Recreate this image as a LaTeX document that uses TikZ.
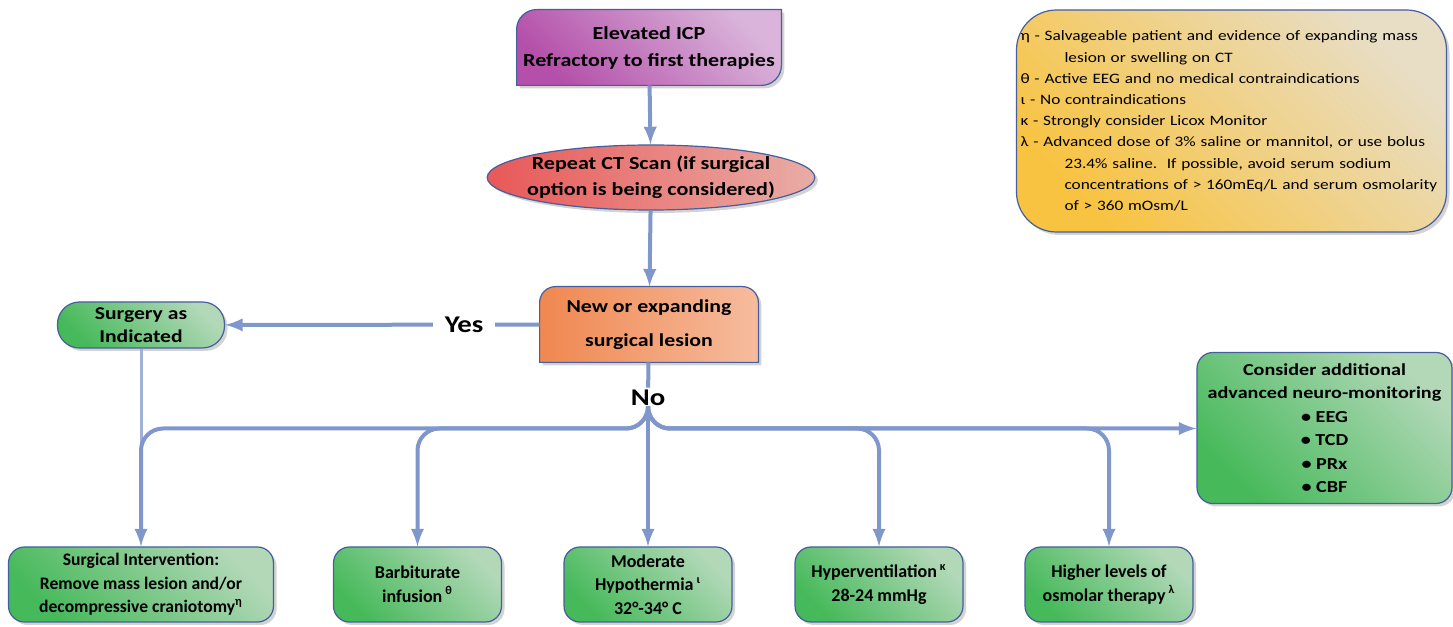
\documentclass[tikz,border=0pt]{standalone}
\usepackage{fontspec}
\setmainfont{Carlito}
\newfontfamily\widefont{Carlito}[FakeStretch=1.2]
\usetikzlibrary{shapes.geometric,shadows,backgrounds}
\definecolor{arrowc}{RGB}{127,151,202}
\definecolor{boxline}{RGB}{68,94,158}
\definecolor{greenlo}{RGB}{70,185,90}
\definecolor{greenhi}{RGB}{178,216,184}
\definecolor{purplelo}{RGB}{180,80,170}
\definecolor{purplehi}{RGB}{218,180,218}
\definecolor{redlo}{RGB}{232,88,88}
\definecolor{redhi}{RGB}{233,172,166}
\definecolor{orangelo}{RGB}{240,135,80}
\definecolor{orangehi}{RGB}{246,188,158}
\definecolor{yellowlo}{RGB}{248,195,65}
\definecolor{yellowhi}{RGB}{232,222,198}
\begin{document}
\begin{tikzpicture}[
	x=0.5pt, y=0.5pt,
	every node/.style={font=\fontsize{9}{11.75}\selectfont\bfseries},
	arr/.style={draw=arrowc, line width=2pt, -latex},
	boxshadow/.style={drop shadow={opacity=0.35, shadow xshift=1.5pt, shadow yshift=-1.5pt}},
	greenbox/.style={draw=boxline, line width=0.6pt, rounded corners=8pt, align=center,
		inner sep=0pt, top color=greenhi, bottom color=greenlo, shading angle=-45, boxshadow},
	bottombox/.style={greenbox, minimum width=84pt, minimum height=37.5pt},
	label/.style={font=\widefont\fontsize{12}{13}\selectfont\bfseries, fill=white}
]
\useasboundingbox (0,0) rectangle (1453,627);

% main column
\node[minimum width=132pt, minimum height=37.5pt, inner sep=0pt, align=center,
	font=\widefont\fontsize{9.2}{13.5}\selectfont\bfseries] (T) at (649,579.5)
	{Elevated ICP\\Refractory to first therapies};
\node[ellipse, draw=boxline, line width=0.6pt, minimum width=161pt, minimum height=32.5pt,
	inner xsep=-4pt, inner ysep=-1pt, align=center, left color=redlo, right color=redhi, boxshadow,
	font=\widefont\fontsize{9.2}{13}\selectfont\bfseries] (E) at (651,449.5)
	{Repeat CT Scan (if surgical\\option is being considered)};
\node[minimum width=109pt, minimum height=37.5pt, inner sep=0pt, align=center,
	font=\widefont\fontsize{9.1}{17}\selectfont\bfseries] (D) at (649,302.5)
	{New or expanding\\surgical lesion};
\node[greenbox, rounded corners=11pt, minimum width=83.5pt, minimum height=23pt,
	font=\widefont\fontsize{9}{11.5}\selectfont\bfseries] (S) at (141,302)
	{Surgery as\\Indicated};
\node[greenbox, minimum width=127.5pt, minimum height=75.5pt,
	font=\widefont\fontsize{8.4}{11.75}\selectfont\bfseries] (C) at (1324.5,199)
	{Consider additional\\advanced neuro-monitoring\\• EEG\\• TCD\\• PRx\\• CBF};

% legend
\node[draw=boxline, line width=0.6pt, rounded corners=20pt, top color=yellowhi,
	bottom color=yellowlo, shading angle=-45, boxshadow, align=left, text width=211pt,
	inner xsep=2pt, minimum height=111pt, font=\widefont\fontsize{7.2}{10.6}\selectfont] (L) at (1231.5,506)
	{η - Salvageable patient and evidence of expanding mass\\
	\hspace*{22pt}lesion or swelling on CT\\
	θ - Active EEG and no medical contraindications\\
	ι - No contraindications\\
	κ - Strongly consider Licox Monitor\\
	λ - Advanced dose of 3\% saline or mannitol, or use bolus\\
	\hspace*{22pt}23.4\% saline.\ \ If possible, avoid serum sodium\\
	\hspace*{22pt}concentrations of > 160mEq/L and serum osmolarity\\
	\hspace*{22pt}of > 360 mOsm/L};

% bottom row
\node[bottombox, minimum width=132.5pt, font=\fontsize{8.8}{11.75}\selectfont\bfseries] (B1) at (141,42.5)
	{Surgical Intervention:\\Remove mass lesion and/or\\decompressive craniotomy\textsuperscript{η}};
\node[bottombox] (B2) at (417.5,42.5) {Barbiturate\\infusion\,\textsuperscript{θ}};
\node[bottombox, font=\fontsize{9}{11.75}\selectfont\bfseries] (B3) at (648,42.5)
	{Moderate\\Hypothermia\,\textsuperscript{ι}\\32°-34° C};
\node[bottombox] (B4) at (879,42.5) {Hyperventilation\,\textsuperscript{κ}\\28-24 mmHg};
\node[bottombox] (B5) at (1109,42.5) {Higher levels of\\osmolar therapy\,\textsuperscript{λ}};

% odd shaped boxes
\begin{scope}[on background layer]
\path[draw=boxline, line width=0.6pt, top color=purplehi, bottom color=purplelo, shading angle=-45, boxshadow]
	(T.south west) -- ([yshift=-10pt]T.north west) arc[start angle=180, end angle=90, radius=10pt]
	-- (T.north east) -- ([yshift=10pt]T.south east) arc[start angle=0, end angle=-90, radius=10pt] -- cycle;
\path[draw=boxline, line width=0.6pt, left color=orangelo, right color=orangehi, boxshadow]
	(D.south west) -- ([yshift=-8pt]D.north west) arc[start angle=180, end angle=90, radius=8pt]
	-- ([xshift=-8pt]D.north east) arc[start angle=90, end angle=0, radius=8pt] -- (D.south east) -- cycle;
\end{scope}

% connectors
\draw[arr] (T) -- (E);
\draw[arr] (E) -- (D);
\draw[arr] (D) -- node[label, pos=0.24, inner xsep=6pt] {Yes} (S);
\node[label, inner sep=1pt] (N) at (648,229) {No};
\draw[draw=arrowc, line width=2pt] (D) -- (N);
\coordinate (H) at (648,198.5);
\draw[draw=arrowc!75, line width=1.5pt] (S) -- ([yshift=9pt]B1.north);
\draw[arr, rounded corners=11pt] (N.south) -- (H) -- (B1.north |- H) -- (B1.north);
\draw[arr, rounded corners=11pt] (N.south) -- (H) -- (B2.north |- H) -- (B2.north);
\draw[arr] (N) -- (B3);
\draw[arr, rounded corners=11pt] (N.south) -- (H) -- (B4.north |- H) -- (B4.north);
\draw[arr, rounded corners=11pt] (N.south) -- (H) -- (B5.north |- H) -- (B5.north);
\draw[arr, rounded corners=11pt] (N.south) -- (H) -- (C.west |- H);
\end{tikzpicture}
\end{document}
